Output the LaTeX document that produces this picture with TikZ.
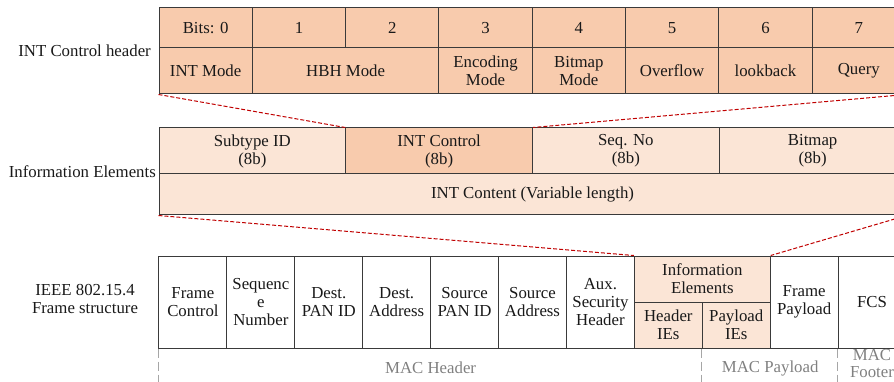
\documentclass[tikz,border=0pt]{standalone}
\usepackage{fontspec}
\setmainfont{Liberation Serif}
\definecolor{topfill}{HTML}{F8CBAD}
\definecolor{lightfill}{HTML}{FBE5D6}
\definecolor{bordc}{HTML}{3A3A3A}
\definecolor{redd}{HTML}{C00000}
\definecolor{grayd}{HTML}{A6A6A6}
\definecolor{grayt}{HTML}{808080}
\newcommand{\fsz}{\fontsize{16.8}{18}\selectfont}
\begin{document}
\begin{tikzpicture}[x=1pt,y=-1pt,
  cell/.style={draw=bordc, line width=1pt, inner sep=0pt, align=center, font=\fsz, text=black!90},
  dark/.style={cell, fill=topfill},
  light/.style={cell, fill=lightfill},
  plain/.style={cell, fill=white},
  lab/.style={inner sep=0pt, align=center, font=\fsz, text=black!90},
  graylab/.style={inner sep=0pt, align=center, font=\fsz, text=grayt},
  reddash/.style={draw=redd, line width=1pt, dash pattern=on 4pt off 2pt},
  graydash/.style={draw=grayd, line width=1.2pt, dash pattern=on 9pt off 4pt}]
\useasboundingbox (0,0) rectangle (894,382);
\clip (0,0) rectangle (894,382);
% ---- INT Control header ----
\node[dark, minimum width=93.3pt, minimum height=40pt] (t10) at (205.65,28) {Bits: 0};
\node[dark, minimum width=93.3pt, minimum height=40pt] (t11) at (298.95,28) {1};
\node[dark, minimum width=93.3pt, minimum height=40pt] (t12) at (392.25,28) {2};
\node[dark, minimum width=93.3pt, minimum height=40pt] (t13) at (485.55,28) {3};
\node[dark, minimum width=93.3pt, minimum height=40pt] (t14) at (578.85,28) {4};
\node[dark, minimum width=93.3pt, minimum height=40pt] (t15) at (672.15,28) {5};
\node[dark, minimum width=93.3pt, minimum height=40pt] (t16) at (765.45,28) {6};
\node[dark, minimum width=93.3pt, minimum height=40pt] (t17) at (858.75,28) {7};
\node[dark, minimum width=93.3pt, minimum height=46pt] (t20) at (205.65,71) {INT Mode};
\node[dark, minimum width=186.6pt, minimum height=46pt] (t21) at (345.6,71) {HBH Mode};
\node[dark, minimum width=93.3pt, minimum height=46pt] (t23) at (485.55,71) {Encoding\\Mode};
\node[dark, minimum width=93.3pt, minimum height=46pt] (t24) at (578.85,71) {Bitmap\\Mode};
\node[dark, minimum width=93.3pt, minimum height=46pt] (t25) at (672.15,71) {Overflow};
\node[dark, minimum width=93.3pt, minimum height=46pt] (t26) at (765.45,71) {lookback};
\node[dark, minimum width=93.3pt, minimum height=46pt] (t27) at (858.75,71) {Query};
\node[lab, anchor=east] (lab1) at (151,51) {INT Control header};
% ---- Information Elements ----
\node[light, minimum width=186.75pt, minimum height=46pt] (m0) at (252.375,151) {Subtype ID\\(8b)};
\node[dark, minimum width=186.75pt, minimum height=46pt] (m1) at (439.125,151) {INT Control\\(8b)};
\node[light, minimum width=186.75pt, minimum height=46pt] (m2) at (625.875,151) {Seq. No\\(8b)};
\node[light, minimum width=186.75pt, minimum height=46pt] (m3) at (812.625,151) {Bitmap\\(8b)};
\node[light, minimum width=747pt, minimum height=41pt] (mc) at (532.5,194.5) {INT Content (Variable length)};
\node[lab, anchor=east] (lab2) at (156,172) {Information Elements};
% ---- IEEE 802.15.4 frame ----
\node[plain, minimum width=67.91pt, minimum height=92pt] (b0) at (192.95,302) {Frame\\Control};
\node[plain, minimum width=67.91pt, minimum height=92pt] (b1) at (260.87,302) {Sequenc\\e\\Number};
\node[plain, minimum width=67.91pt, minimum height=92pt] (b2) at (328.78,302) {Dest.\\PAN ID};
\node[plain, minimum width=67.91pt, minimum height=92pt] (b3) at (396.69,302) {Dest.\\Address};
\node[plain, minimum width=67.91pt, minimum height=92pt] (b4) at (464.6,302) {Source\\PAN ID};
\node[plain, minimum width=67.91pt, minimum height=92pt] (b5) at (532.5,302) {Source\\Address};
\node[plain, minimum width=67.91pt, minimum height=92pt] (b6) at (600.41,302) {Aux.\\Security\\Header};
\node[light, minimum width=135.82pt, minimum height=46pt] (ie) at (702.28,279) {Information\\Elements};
\node[light, minimum width=67.91pt, minimum height=46pt] (b7) at (668.32,325) {Header\\IEs};
\node[light, minimum width=67.91pt, minimum height=46pt] (b8) at (736.23,325) {Payload\\IEs};
\node[plain, minimum width=67.91pt, minimum height=92pt] (b9) at (804.14,302) {Frame\\Payload};
\node[plain, minimum width=67.91pt, minimum height=92pt] (b10) at (872.05,302) {FCS};
\node[lab] (lab3) at (85,299) {IEEE 802.15.4\\Frame structure};
% ---- zoom connectors ----
\draw[reddash] (t20.south west) -- (m1.north west);
\draw[reddash] (t27.south east) -- (m1.north east);
\draw[reddash] (mc.south west) -- (ie.north west);
\draw[reddash] (mc.south east) -- (ie.north east);
% ---- MAC parts ----
\coordinate (gend) at (0,392);
\draw[graydash] (b0.south west) -- (b0.south west |- gend);
\draw[graydash] (b8.south west) -- (b8.south west |- gend);
\draw[graydash] (b10.south west) -- (b10.south west |- gend);
\node[graylab] (mh) at (430.6,368) {MAC Header};
\node[graylab] (mp) at (770.2,368) {MAC Payload};
\node[graylab, font=\fontsize{16.8}{17}\selectfont] (mf) at (872,363.5) {MAC\\Footer};
\end{tikzpicture}
\end{document}
